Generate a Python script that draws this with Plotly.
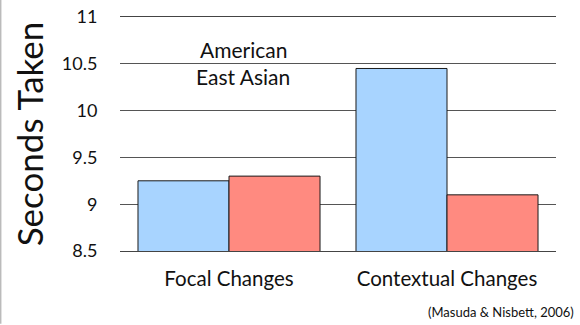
import plotly.graph_objects as go

categories = ["Focal Changes", "Contextual Changes"]
american = [9.25, 10.45]
east_asian = [9.30, 9.10]
y_ticks = [8.5, 9, 9.5, 10, 10.5, 11]
y_tick_labels = ["8.5", "9", "9.5", "10", "10.5", "11"]

FONT = "Lato"
W, H = 580, 325
L, R, T, B = 120, 24, 17, 74
PW = W - L - R
PH = H - T - B

fig = go.Figure()
fig.add_trace(go.Bar(
    x=categories, y=american, name="American",
    marker=dict(color="#A8D4FF", line=dict(color="#1a1a1a", width=1)),
))
fig.add_trace(go.Bar(
    x=categories, y=east_asian, name="East Asian",
    marker=dict(color="#FF8A80", line=dict(color="#1a1a1a", width=1)),
))

fig.update_layout(
    width=W, height=H,
    margin=dict(l=L, r=R, t=T, b=B, autoexpand=False),
    paper_bgcolor="white", plot_bgcolor="white",
    barmode="group", bargap=0.165, bargroupgap=0,
    showlegend=False,
    font=dict(family=FONT, color="#111"),
)

fig.update_yaxes(
    range=[8.5, 11], automargin=False,
    tickvals=y_ticks, ticktext=y_tick_labels,
    tickfont=dict(size=18, family=FONT, color="#111"),
    showgrid=True, gridcolor="#555", gridwidth=1,
    zeroline=False, showline=False,
    ticks="outside", ticklen=18, tickcolor="rgba(0,0,0,0)",
    title=dict(text="Seconds Taken", font=dict(size=35, family=FONT, color="#111"), standoff=7),
)
# Bottom and top frame lines at 8.5 and 11
fig.update_xaxes(
    automargin=False,
    tickfont=dict(size=20.5, family=FONT, color="#111"),
    showline=True, mirror=True, linecolor="#444", linewidth=1,
    ticks="outside", ticklen=9, tickcolor="rgba(0,0,0,0)",
)

# Series names written inside the plot
for name, yv in [("American", 10.655), ("East Asian", 10.365)]:
    fig.add_annotation(
        x=(243 - L) / PW, y=yv, xref="x domain", yref="y",
        xanchor="center", yanchor="middle",
        text=name, showarrow=False,
        font=dict(size=21, family=FONT, color="#111"),
    )

fig.add_annotation(
    x=1, y=0, xref="paper", yref="paper", xanchor="right", yanchor="bottom",
    xshift=R - 4, yshift=-B + 3,
    text="(Masuda & Nisbett, 2006)", showarrow=False,
    font=dict(size=13, family=FONT, color="#111"),
)

# Thin frame line at the left edge
fig.add_shape(
    type="line", xref="paper", yref="paper",
    x0=-L / PW + 0.001, x1=-L / PW + 0.001,
    y0=-B / PH + 0.005, y1=1 + T / PH,
    line=dict(color="#bbb", width=2),
)

fig.write_html("out.html")
